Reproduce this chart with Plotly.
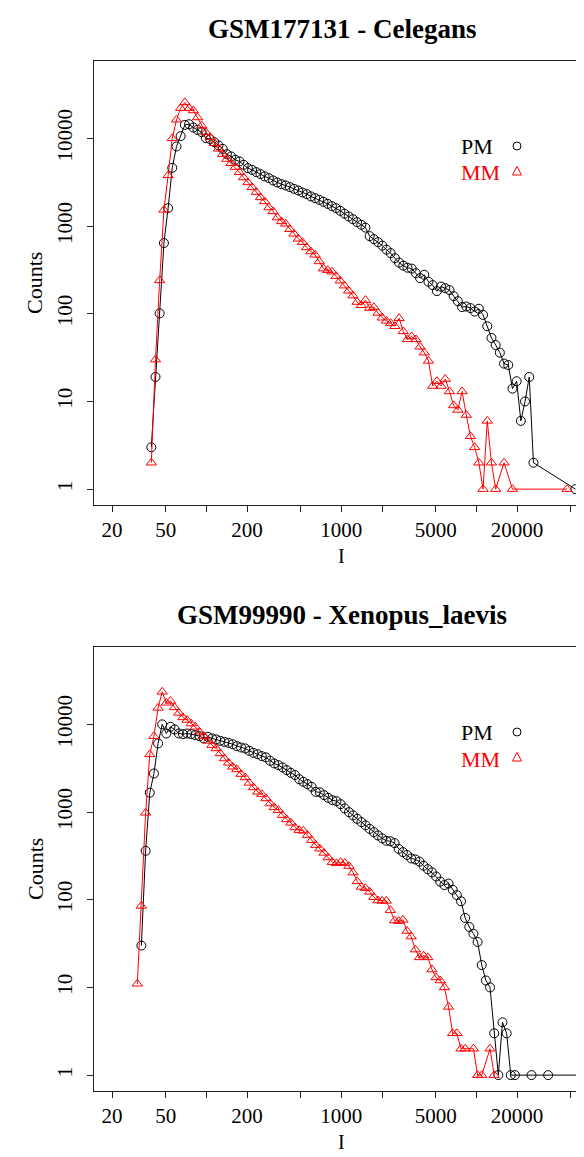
import plotly.graph_objects as go

W, H = 584, 1157

# ---------------- data: top panel (GSM177131 - Celegans) ----------------
I_top = [39.1, 42.0, 45.1, 48.5, 52.1, 55.9, 60.1, 64.5, 69.3, 74.5,
         80.0, 86.0, 92.3, 99.2, 106.6, 114.5, 123.0, 132.1, 141.9, 152.5,
         163.8, 176.0, 189.0, 203.1, 218.2, 234.4, 251.8, 270.4, 290.5, 312.1,
         335.3, 360.2, 386.9, 415.7, 446.5, 479.7, 515.3, 553.6, 594.7, 638.9,
         686.3, 737.3, 792.1, 850.9, 914.1, 982.0, 1055, 1133, 1217, 1308,
         1405, 1509, 1621, 1741, 1871, 2010, 2159, 2319, 2492, 2677,
         2875, 3089, 3318, 3564, 3829, 4113, 4419, 4747, 5099, 5478,
         5884, 6322, 6791, 7295, 7837, 8419, 9044, 9714, 10435, 11210,
         12043, 12937, 13898, 14929, 16037, 17228, 18510, 19884, 21360, 22946,
         24649, 26478, 46960, 54200]

PM_top = [3, 19, 101, 640, 1600, 4610, 8080, 10600, 14250, 14500,
          13300, 12500, 11780, 10050, 9790, 9060, 8300, 7590, 6600, 6220,
          5690, 5450, 4990, 4575, 4375, 4120, 3910, 3680, 3520, 3310,
          3140, 3005, 2905, 2780, 2655, 2546, 2416, 2311, 2177, 2080,
          1990, 1888, 1791, 1686, 1600, 1490, 1384, 1286, 1198, 1107,
          1032, 959, 767, 709, 655, 598, 538, 491, 430, 383,
          353, 335, 327, 290, 255, 278, 232, 212, 181, 204,
          196, 186, 159, 139, 119, 121, 116, 106, 114, 97,
          72, 53, 44, 36, 27, 26, 14, 17, 6, 10,
          19, 2, None, 1]

MM_top = [2, 30, 240, 1530, 3780, 10000, 16300, 22100, 25700, 22100,
          20800, 17300, 14000, 11700, 10300, 8800, 7600, 6600, 5800, 5200,
          4700, 4100, 3580, 3140, 2760, 2440, 2120, 1910, 1630, 1470,
          1250, 1130, 1060, 920, 815, 715, 655, 570, 513, 470,
          395, 327, 314, 302, 268, 238, 209, 183, 161, 136,
          125, 143, 116, 119, 102, 90, 83, 78, 72, 89,
          63, 51, 55, 51, 42, 36, 29, 15, 17, 15,
          18, 13, 9, 8, 13, 7, 4, 3, 2, 1,
          6, 2, 1, None, 2, None, 1, None, None, None,
          None, None, 1, None]

# ---------------- data: bottom panel (GSM99990 - Xenopus_laevis) ----------------
I_bot = [30.8, 33.0, 35.5, 38.1, 40.9, 43.9, 47.1, 50.5, 54.2, 58.2,
         62.5, 67.1, 72.0, 77.3, 82.9, 89.0, 95.5, 102.6, 110.1, 118.2,
         126.8, 136.1, 146.1, 156.8, 168.3, 180.7, 193.9, 208.2, 223.4, 239.9,
         257.4, 276.3, 296.6, 318.3, 341.7, 366.8, 393.6, 422.5, 453.5, 486.8,
         522.4, 560.7, 601.9, 646.0, 693.4, 744.2, 798.7, 857.4, 920.3, 987.9,
         1060, 1138, 1221, 1311, 1407, 1510, 1621, 1740, 1867, 2005,
         2152, 2309, 2479, 2661, 2856, 3066, 3290, 3532, 3791, 4069,
         4368, 4688, 5032, 5401, 5798, 6223, 6679, 7169, 7695, 8260,
         8866, 9513, 10211, 10960, 11764, 12627, 13552, 14546, 15613, 16758,
         17988, 19310, 25627, 34020, 59940]

PM_bot = [None, 30, 361, 1660, 2750, 6060, 10000, 7870, 9370, 8750,
          7870, 7730, 7870, 7730, 7530, 7330, 6910, 7210, 6910, 6730,
          6490, 6310, 6150, 5940, 5640, 5450, 5310, 4990, 4730, 4570,
          4340, 4200, 3840, 3580, 3430, 3230, 3010, 2800, 2640, 2370,
          2210, 2080, 1940, 1700, 1678, 1560, 1452, 1367, 1331, 1230,
          1099, 997, 915, 836, 767, 705, 643, 590, 541, 501,
          470, 464, 442, 380, 349, 324, 296, 288, 272, 244,
          223, 205, 184, 161, 147, 153, 130, 113, 96, 62,
          49, 41, 33, 18, 12, 10, 3, 1, 4, 3,
          1, 1, 1, 1, 1]

MM_bot = [11, 85, 980, 4540, 7330, 15400, 23500, 17600, 18500, 15600,
          13500, 12000, 11200, 10200, 9370, 8210, 7330, 6480, 5790, 5310,
          4660, 4080, 3640, 3280, 3060, 2710, 2480, 2150, 1910, 1700,
          1600, 1430, 1250, 1130, 1050, 922, 824, 754, 667, 622,
          611, 546, 478, 420, 382, 342, 303, 268, 260, 268,
          262, 242, 204, 162, 140, 135, 123, 107, 98, 97,
          97, 76, 58, 57, 59, 44, 38, 27, 22, 23,
          22, 16, 13, 12, 10, 6, 3, 3, 2, 2,
          None, 2, 1, 1, None, 2, 1, None, None, None,
          None, None, None, None, None]

titles = ["GSM177131 - Celegans", "GSM99990 - Xenopus_laevis"]
x_tickvals = [20, 50, 100, 200, 500, 1000, 2000, 5000, 10000, 20000, 50000]
x_ticktext = ["20", "50", "", "200", "", "1000", "", "5000", "", "20000", ""]
y_tickvals = [1, 10, 100, 1000, 10000]
y_ticktext = ["1", "10", "100", "1000", "10000"]

FONT = "Liberation Serif, Times New Roman, serif"
RED = "#FF0000"

# ---------------- layout geometry (pixels) ----------------
frame_left, frame_right = 86, 581
panels = [  # (frame top, frame bottom) in pixels
    (53, 497),
    (639, 1083),
]
offsets = [0, 586]

def py(v):
    return 1 - v / H

def px(v):
    return v / W

fig = go.Figure()

datasets = [(I_top, PM_top, MM_top), (I_bot, PM_bot, MM_bot)]
for p, (I, pm, mm) in enumerate(datasets):
    xa = "x" if p == 0 else "x2"
    ya = "y" if p == 0 else "y2"
    fig.add_trace(go.Scatter(
        x=I, y=pm, mode="lines+markers", connectgaps=True,
        line=dict(color="black", width=1),
        marker=dict(symbol="circle-open", size=9, color="black", line=dict(width=1)),
        xaxis=xa, yaxis=ya, showlegend=False, hoverinfo="skip"))
    fig.add_trace(go.Scatter(
        x=I, y=mm, mode="lines+markers", connectgaps=True,
        line=dict(color=RED, width=1),
        marker=dict(symbol="triangle-up-open", size=9, color=RED, line=dict(width=1)),
        xaxis=xa, yaxis=ya, showlegend=False, hoverinfo="skip"))

axis_common = dict(
    showgrid=False, zeroline=False, showline=True, mirror=True,
    linecolor="#222", linewidth=1, ticks="outside", ticklen=6,
    tickcolor="#222", tickwidth=1,
    tickfont=dict(family=FONT, size=21, color="black"),
)

layout = dict(
    width=W, height=H, margin=dict(l=0, r=0, t=0, b=0),
    paper_bgcolor="white", plot_bgcolor="white",
    font=dict(family=FONT, color="black"),
)

for p, (ft, fb) in enumerate(panels):
    suffix = "" if p == 0 else "2"
    layout["xaxis" + suffix] = dict(
        axis_common, type="log", range=[1.1677, 4.8344],
        domain=[px(frame_left), px(frame_right)],
        anchor="y" + suffix,
        tickvals=x_tickvals, ticktext=x_ticktext, ticklabelstandoff=0,
    )
    layout["yaxis" + suffix] = dict(
        axis_common, type="log", range=[-0.181, 4.882],
        domain=[py(fb), py(ft)],
        anchor="x" + suffix,
        tickvals=y_tickvals, ticktext=y_ticktext, tickangle=-90,
        ticklabelstandoff=7,
    )

fig.update_layout(**layout)

annotations = []
shapes = []
for p, (ft, fb) in enumerate(panels):
    off = offsets[p]
    cx = (frame_left + frame_right) / 2
    annotations.append(dict(
        text="<b>" + titles[p] + "</b>", x=px(cx), y=py(21 + off),
        xref="paper", yref="paper", showarrow=False,
        font=dict(family=FONT, size=27, color="black"),
        xanchor="center", yanchor="middle"))
    annotations.append(dict(
        text="I", x=px(cx), y=py(fb + 63), xref="paper", yref="paper",
        showarrow=False, font=dict(family=FONT, size=20, color="black"),
        xanchor="center", yanchor="bottom", borderpad=0))
    annotations.append(dict(
        text="Counts", x=px(27), y=py((ft + fb) / 2), xref="paper", yref="paper",
        showarrow=False, textangle=-90,
        font=dict(family=FONT, size=22, color="black"),
        xanchor="center", yanchor="middle"))
    # legend
    annotations.append(dict(
        text="PM", x=px(451), y=py(138 + off), xref="paper", yref="paper",
        showarrow=False, font=dict(family=FONT, size=22, color="black"),
        xanchor="left", yanchor="middle"))
    annotations.append(dict(
        text="MM", x=px(451), y=py(165 + off), xref="paper", yref="paper",
        showarrow=False, font=dict(family=FONT, size=22, color=RED),
        xanchor="left", yanchor="middle"))
    shapes.append(dict(
        type="circle", xref="paper", yref="paper",
        x0=px(505), x1=px(513), y0=py(142 + off), y1=py(134 + off),
        line=dict(color="black", width=1)))
    tx, ty = 509, 163 + off
    path = "M {} {} L {} {} L {} {} Z".format(
        px(tx - 4.5), py(ty + 4), px(tx + 4.5), py(ty + 4), px(tx), py(ty - 4.5))
    shapes.append(dict(type="path", path=path, xref="paper", yref="paper",
                       line=dict(color=RED, width=1)))

fig.update_layout(annotations=annotations, shapes=shapes)
fig.write_html("out.html")
